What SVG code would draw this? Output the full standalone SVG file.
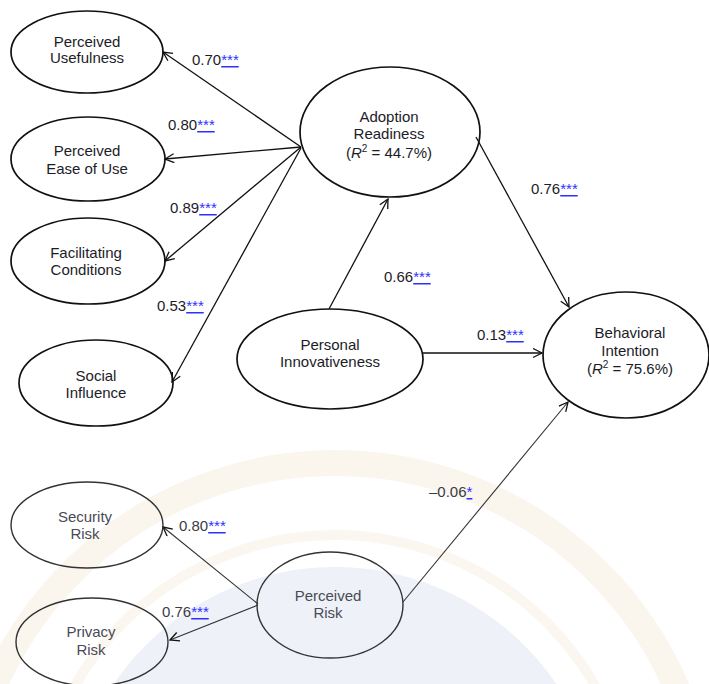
<svg xmlns="http://www.w3.org/2000/svg" width="709" height="684" viewBox="0 0 709 684">
<style>
  .node ellipse { fill: none; stroke: #111; stroke-width: 1.7; }
  .faded ellipse { stroke: #333; stroke-width: 1.4; }
  .lbl { font-family: "Liberation Sans", Arial, sans-serif; font-size: 15px; fill: #1c1c28; text-anchor: middle; }
  .faded .lbl { fill: #4a4a55; }
  .coef { font-family: "Liberation Sans", Arial, sans-serif; font-size: 15px; fill: #1c1c28; }
  .coef.f { fill: #3c3c44; }
  .sig { fill: #2f2fff; text-decoration: underline; }
  .edge { fill: none; stroke: #111; stroke-width: 1.3; marker-end: url(#arr); }
  .edge.f { stroke: #333; stroke-width: 1.1; }
  .sup { font-size: 10px; }
</style>
<defs>
  <marker id="arr" markerUnits="userSpaceOnUse" markerWidth="12" markerHeight="12" refX="10" refY="5" orient="auto">
    <path d="M1,0.5 L10,5 L1,9.5" fill="none" stroke="#111" stroke-width="1.3"/>
  </marker>
</defs>
<rect width="709" height="684" fill="#ffffff"/>
<g id="watermark">
  <circle cx="335" cy="835" r="268" fill="#eef1f8"/>
  <circle cx="335" cy="835" r="372" fill="none" stroke="#faf6ee" stroke-width="26"/>
  <circle cx="335" cy="835" r="300" fill="none" stroke="#fbf7f0" stroke-width="10"/>
</g>
<g id="connectors">
  <line class="edge" x1="301" y1="147" x2="163" y2="52"/>
  <line class="edge" x1="301" y1="147" x2="165" y2="159"/>
  <line class="edge" x1="301" y1="147" x2="165" y2="261"/>
  <line class="edge" x1="301" y1="148" x2="172" y2="382"/>
  <line class="edge" x1="476" y1="137" x2="569" y2="307"/>
  <line class="edge" x1="329" y1="309" x2="388" y2="199"/>
  <line class="edge" x1="423" y1="353" x2="542" y2="353"/>
  <line class="edge f" x1="403" y1="602" x2="568" y2="402"/>
  <line class="edge f" x1="258" y1="604" x2="163" y2="527"/>
  <line class="edge f" x1="258" y1="605" x2="170" y2="640"/>
  <text class="coef" x="192" y="65">0.70<tspan class="sig">***</tspan></text>
  <text class="coef" x="168" y="130">0.80<tspan class="sig">***</tspan></text>
  <text class="coef" x="170" y="213">0.89<tspan class="sig">***</tspan></text>
  <text class="coef" x="157" y="311">0.53<tspan class="sig">***</tspan></text>
  <text class="coef" x="384" y="282">0.66<tspan class="sig">***</tspan></text>
  <text class="coef" x="531" y="194">0.76<tspan class="sig">***</tspan></text>
  <text class="coef" x="477" y="340">0.13<tspan class="sig">***</tspan></text>
  <text class="coef f" x="429" y="497">–0.06<tspan class="sig">*</tspan></text>
  <text class="coef f" x="179" y="531">0.80<tspan class="sig">***</tspan></text>
  <text class="coef f" x="162" y="617">0.76<tspan class="sig">***</tspan></text>
</g>
<g id="perceived-usefulness" class="node">
  <ellipse cx="87" cy="52" rx="76" ry="41"/>
  <text class="lbl" x="87" y="47">Perceived</text>
  <text class="lbl" x="87" y="63">Usefulness</text>
</g>
<g id="perceived-ease-of-use" class="node">
  <ellipse cx="88" cy="159" rx="77" ry="42"/>
  <text class="lbl" x="87" y="156">Perceived</text>
  <text class="lbl" x="87" y="174">Ease of Use</text>
</g>
<g id="facilitating-conditions" class="node">
  <ellipse cx="88" cy="261" rx="77" ry="43"/>
  <text class="lbl" x="86" y="258">Facilitating</text>
  <text class="lbl" x="86" y="275">Conditions</text>
</g>
<g id="social-influence" class="node">
  <ellipse cx="96" cy="383" rx="77" ry="43"/>
  <text class="lbl" x="96" y="381">Social</text>
  <text class="lbl" x="96" y="398">Influence</text>
</g>
<g id="adoption-readiness" class="node">
  <ellipse cx="390" cy="132" rx="90" ry="65"/>
  <text class="lbl" x="389" y="122">Adoption</text>
  <text class="lbl" x="389" y="139">Readiness</text>
  <text class="lbl" x="389" y="158">(<tspan font-style="italic">R</tspan><tspan class="sup" dy="-6">2</tspan><tspan dy="6"> = 44.7%)</tspan></text>
</g>
<g id="personal-innovativeness" class="node">
  <ellipse cx="330" cy="359" rx="93" ry="50"/>
  <text class="lbl" x="330" y="350">Personal</text>
  <text class="lbl" x="330" y="367">Innovativeness</text>
</g>
<g id="behavioral-intention" class="node">
  <ellipse cx="626" cy="355" rx="83" ry="63"/>
  <text class="lbl" x="630" y="338">Behavioral</text>
  <text class="lbl" x="630" y="356">Intention</text>
  <text class="lbl" x="630" y="374">(<tspan font-style="italic">R</tspan><tspan class="sup" dy="-6">2</tspan><tspan dy="6"> = 75.6%)</tspan></text>
</g>
<g id="security-risk" class="node faded">
  <ellipse cx="87" cy="525" rx="76" ry="43"/>
  <text class="lbl" x="85" y="522">Security</text>
  <text class="lbl" x="85" y="539">Risk</text>
</g>
<g id="privacy-risk" class="node faded">
  <ellipse cx="92" cy="642" rx="76" ry="44"/>
  <text class="lbl" x="91" y="637">Privacy</text>
  <text class="lbl" x="91" y="655">Risk</text>
</g>
<g id="perceived-risk" class="node faded">
  <ellipse cx="330" cy="605" rx="73" ry="53"/>
  <text class="lbl" x="328" y="601">Perceived</text>
  <text class="lbl" x="328" y="618">Risk</text>
</g>
</svg>
